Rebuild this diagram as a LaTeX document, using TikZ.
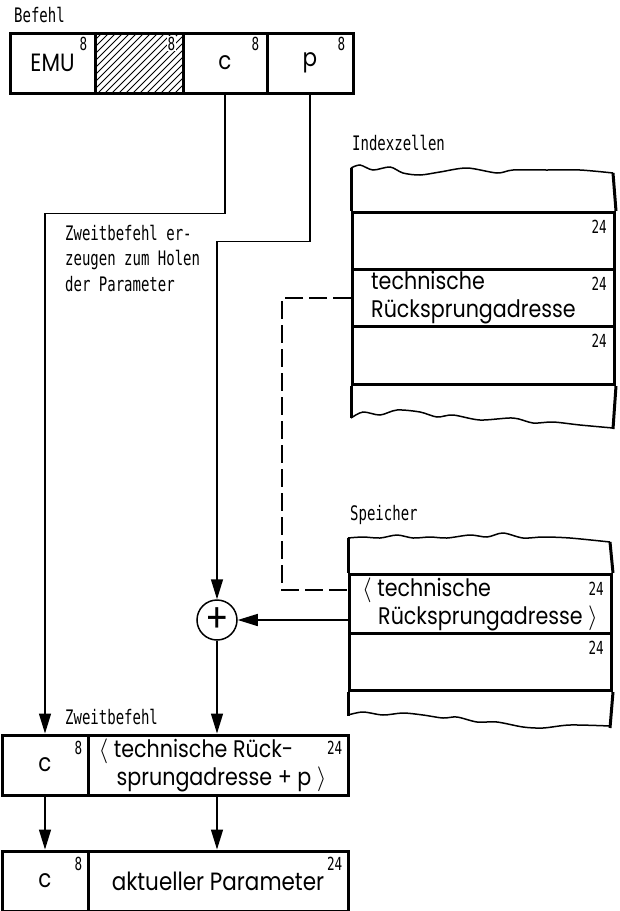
\documentclass[tikz,border=0pt]{standalone}
\usepackage{fontspec}
\setmainfont{Poppins}[FakeStretch=0.86]
\newfontfamily\labelfont{DejaVu Sans Mono}[FakeStretch=0.7]
\usetikzlibrary{calc, arrows.meta}

\begin{document}
\begin{tikzpicture}[x=1pt, y=-1pt,
    cell/.style={draw, line width=3pt, minimum height=60pt, inner sep=0pt, font=\fontsize{25}{28}\selectfont},
    row/.style={draw, line width=3pt, inner sep=0pt, minimum width=262pt, anchor=north west},
    num/.style={anchor=north east, inner sep=1pt, font=\labelfont\fontsize{18}{18}\selectfont},
    lbl/.style={anchor=west, inner sep=0pt, align=left, font=\labelfont\fontsize{20}{25.5}\selectfont},
    txt/.style={anchor=west, inner sep=0pt, align=left, font=\fontsize{24}{28}\selectfont},
    conn/.style={line width=1.5pt},
    arr/.style={conn, -{Triangle[length=20pt, width=12pt]}},
    side/.style={line width=3pt},
    wave/.style={line width=1.5pt}]
    \useasboundingbox (0,0) rectangle (619,911);

    % Befehl: EMU | frei | c | p
    \node[lbl] (befehl) at (14,15) {Befehl};
    \foreach \name/\cx/\w/\txt in {emu/52.5/85/EMU, hatch/139/88/{}, c/225/84/c, p/310/86/p} {
        \node[cell, minimum width=\w pt] (\name) at (\cx,63) {\txt};
    }
    \begin{scope}
        \clip ($(hatch.south west)+(1.5,-1.5)$) rectangle ($(hatch.north east)+(-1.5,1.5)$);
        \foreach \i in {0,...,22}
            \draw[line width=1pt] ($(hatch.south west)+(\i*7-60,0)$) -- ++(60,-60);
    \end{scope}
    \foreach \name in {emu, hatch, c, p}
        \node[num, fill=white] (n\name) at ($(\name.north east)+(-8,4)$) {8};

    \node[lbl] (hint) at (65,258) {Zweitbefehl er-\\zeugen zum Holen\\der Parameter};

    % Indexzellen
    \node[lbl] (ixlbl) at (352,143) {Indexzellen};
    \foreach \name/\top/\h in {ix2/211/57, ix3/268/57, ix4/325/58}
        \node[row, minimum height=\h pt] (\name) at (351,\top) {};
    \draw[side] (351,168) -- (ix2.north west);
    \draw[side] (613,173) -- (ix2.north east);
    \draw[side] (ix4.south west) -- (351,418);
    \draw[side] (ix4.south east) -- (613,429);
    \draw[wave] plot[smooth] coordinates {(351,168) (360,165) (373,170) (390,167) (403,173) (420,175)
        (440,172) (467,168) (497,173) (513,170) (547,170) (580,170) (613,173)};
    \draw[wave] plot[smooth] coordinates {(351,418) (363,412) (380,415) (397,410) (420,412) (437,417)
        (453,415) (480,420) (513,418) (533,423) (553,422) (580,425) (613,428)};
    \node[txt] (ixtxt) at ($(ix3.west)+(20,0)$) {technische\\Rücksprungadresse};

    % Speicher
    \node[lbl] (splbl) at (350,515) {Speicher};
    \foreach \name/\top/\h in {sp2/573/59, sp3/632/57}
        \node[row, minimum height=\h pt] (\name) at (348,\top) {};
    \draw[side] (348,538) -- (sp2.north west);
    \draw[side] (610,542) -- (sp2.north east);
    \draw[side] (sp3.south west) -- (348,716);
    \draw[side] (sp3.south east) -- (610,728);
    \draw[wave] plot[smooth] coordinates {(348,538) (363,537) (380,538) (397,535) (413,538) (430,537)
        (447,538) (470,535) (487,537) (503,533) (523,538) (543,537) (570,538) (610,542)};
    \draw[wave] plot[smooth] coordinates {(348,715) (363,712) (383,715) (403,713) (423,715) (443,718)
        (457,717) (477,722) (497,722) (523,727) (543,728) (570,725) (610,726)};
    \node[txt] (sptxt) at ($(sp2.west)+(14,0)$) {$\langle$ technische\\\hspace{16pt}Rücksprungadresse $\rangle$};

    \foreach \name in {ix2, ix3, ix4, sp2, sp3}
        \node[num] (n\name) at ($(\name.north east)+(-8,8)$) {24};

    % Addierer
    \node[circle, draw, line width=1.5pt, minimum size=40pt, inner sep=0pt,
          font=\fontsize{40}{40}\selectfont] (plus) at (217,620) {+};

    % Zweitbefehl und Ergebnis
    \node[lbl] (zweit) at (65,717) {Zweitbefehl};
    \node[cell, minimum width=86pt] (zc) at (45,765) {c};
    \node[cell, minimum width=260pt] (zr) at (218,765) {};
    \node[txt] (zrtxt) at ($(zr.west)+(12,0)$) {$\langle$ technische Rück-\\\hspace{18pt}sprungadresse + p $\rangle$};
    \node[cell, minimum width=86pt] (ac) at (45,881) {c};
    \node[cell, minimum width=260pt] (ar) at (218,881) {aktueller Parameter};
    \foreach \name/\n in {zc/8, zr/24, ac/8, ar/24}
        \node[num] (n\name) at ($(\name.north east)+(-6,6)$) {\n};

    % Verbindungen
    \draw[arr] (c.south) -- ++(0,119) -| (zc.north);
    \draw[arr] (p.south) -- ++(0,147) -| (plus.north);
    \draw[conn, dash pattern=on 18pt off 6pt] (ix3.west) -- ++(-69,0) |- ($(sp2.west)+(0,-14)$);
    \draw[arr] (plus.east -| sp2.west) -- (plus.east);
    \draw[arr] (plus.south) -- (plus.south |- zr.north);
    \draw[arr] (zc.south) -- (ac.north);
    \draw[arr] (plus.south |- zr.south) -- (plus.south |- ar.north);
\end{tikzpicture}
\end{document}
